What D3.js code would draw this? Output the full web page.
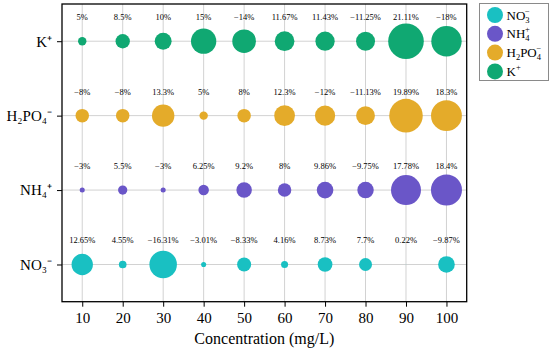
<!DOCTYPE html>
<html>
<head>
<meta charset="utf-8">
<script src="https://cdn.jsdelivr.net/npm/d3@7"></script>
<style>
  body { margin: 0; background: #fff; }
  svg { font-family: "Liberation Serif", "Times New Roman", serif; }
  .grid line { stroke: #d2d2d2; stroke-width: 1; }
  .axis path { display: none; }
  .axis line { stroke: #000; }
</style>
</head>
<body>
<svg id="chart" width="550" height="354"></svg>
<script>
const concentrations = [10, 20, 30, 40, 50, 60, 70, 80, 90, 100];
const ions = ['NO3', 'NH4', 'H2PO4', 'K'];
const ionLabels = { NO3: 'NO₃⁻', NH4: 'NH₄⁺', H2PO4: 'H₂PO₄⁻', K: 'K⁺' };
const ionColors = { NO3: '#19c0c2', NH4: '#6a56c8', H2PO4: '#e4ab2a', K: '#10a872' };

const no3Values   = [12.65, 4.55, -16.31, -3.01, -8.33, 4.16, 8.73, 7.7, 0.22, -9.87];
const nh4Values   = [-3, 5.5, -3, 6.25, 9.2, 8, 9.86, -9.75, 17.78, 18.4];
const h2po4Values = [-8, -8, 13.3, 5, 8, 12.3, -12, -11.13, 19.89, 18.3];
const kValues     = [5, 8.5, 10, 15, -14, 11.67, 11.43, -11.25, 21.11, -18];

const seriesValues = { NO3: no3Values, NH4: nh4Values, H2PO4: h2po4Values, K: kValues };

const data = [];
ions.forEach(ion => {
  seriesValues[ion].forEach((v, i) => {
    data.push({ ion, conc: concentrations[i], value: v });
  });
});

const svg = d3.select('#chart');
const margin = { left: 62, right: 83.3, top: 4, bottom: 52.3 };
const width = 550, height = 354;
const innerWidth = width - margin.left - margin.right;
const innerHeight = height - margin.top - margin.bottom;

const xScale = d3.scaleLinear().domain([5, 105]).range([0, innerWidth]);
const yScale = d3.scalePoint().domain(ions).range([innerHeight, 0]).padding(0.5);
const rScale = d3.scaleLinear().domain([0, 21.11]).range([0, 17.8]);

const fmt = v => (v < 0 ? '\u2212' + Math.abs(v) : String(v)) + '%';

const g = svg.append('g').attr('transform', `translate(${margin.left},${margin.top})`);

// grid
const grid = g.append('g').attr('class', 'grid');
grid.selectAll('.vline').data(concentrations).enter().append('line')
  .attr('x1', d => xScale(d)).attr('x2', d => xScale(d))
  .attr('y1', 0).attr('y2', innerHeight);
grid.selectAll('.hline').data(ions).enter().append('line')
  .attr('y1', d => yScale(d)).attr('y2', d => yScale(d))
  .attr('x1', 0).attr('x2', innerWidth);

// axes
const xAxis = d3.axisBottom(xScale).tickValues(concentrations).tickSize(5).tickPadding(6);
const yAxis = d3.axisLeft(yScale).tickSize(5).tickPadding(5).tickFormat(d => ionLabels[d]);

const xAxisG = g.append('g').attr('class', 'axis')
  .attr('transform', `translate(0,${innerHeight})`).call(xAxis);
xAxisG.selectAll('text').style('font-size', '15px').attr('fill', '#000')
  .attr('font-family', '"Liberation Serif", serif');

const yAxisG = g.append('g').attr('class', 'axis').call(yAxis);
yAxisG.selectAll('text').style('font-size', '15px').attr('fill', '#000')
  .attr('font-family', '"Liberation Serif", serif');

g.append('text')
  .attr('x', innerWidth / 2)
  .attr('y', innerHeight + 42)
  .attr('text-anchor', 'middle')
  .style('font-size', '16px')
  .text('Concentration (mg/L)');

// bubbles
g.append('g').selectAll('circle').data(data).enter().append('circle')
  .attr('cx', d => xScale(d.conc))
  .attr('cy', d => yScale(d.ion))
  .attr('r', d => rScale(Math.abs(d.value)))
  .attr('fill', d => ionColors[d.ion]);

// value labels
g.append('g').selectAll('text').data(data).enter().append('text')
  .attr('x', d => xScale(d.conc))
  .attr('y', d => yScale(d.ion) - 21)
  .attr('text-anchor', 'middle')
  .style('font-size', '8.5px')
  .text(d => fmt(d.value));

// frame
g.append('rect')
  .attr('width', innerWidth).attr('height', innerHeight)
  .attr('fill', 'none').attr('stroke', '#000').attr('stroke-width', 1.3);

// legend
const legendParts = {
  NO3: ['NO', '3', '\u2212'],
  NH4: ['NH', '4', '+'],
  K: ['K', null, '+']
};
const legend = svg.append('g').attr('transform', 'translate(479.5,3.5)');
legend.append('rect').attr('width', 69).attr('height', 77)
  .attr('fill', '#fff').attr('stroke', '#8a8a8a').attr('stroke-width', 1);

ions.forEach((ion, i) => {
  const cy = 11.5 + i * 18.8;
  legend.append('circle').attr('cx', 15.5).attr('cy', cy).attr('r', 8).attr('fill', ionColors[ion]);
  const t = legend.append('text').attr('x', 27).attr('y', cy + 4.5).style('font-size', '13px');
  const addSubSup = (sub, sup) => {
    if (sub !== null) {
      t.append('tspan').attr('dy', 3).style('font-size', '8.5px').text(sub);
    }
    if (sup !== null) {
      const sp = t.append('tspan').attr('dy', sub !== null ? -9 : -6).style('font-size', '8.5px').text(sup);
      if (sub !== null) sp.attr('dx', -4.5);
    }
  };
  if (ion === 'H2PO4') {
    t.append('tspan').text('H');
    t.append('tspan').attr('dy', 3).style('font-size', '8.5px').text('2');
    t.append('tspan').attr('dy', -3).text('PO');
    addSubSup('4', '\u2212');
  } else {
    const parts = legendParts[ion];
    t.append('tspan').text(parts[0]);
    addSubSup(parts[1], parts[2]);
  }
});
</script>
</body>
</html>
